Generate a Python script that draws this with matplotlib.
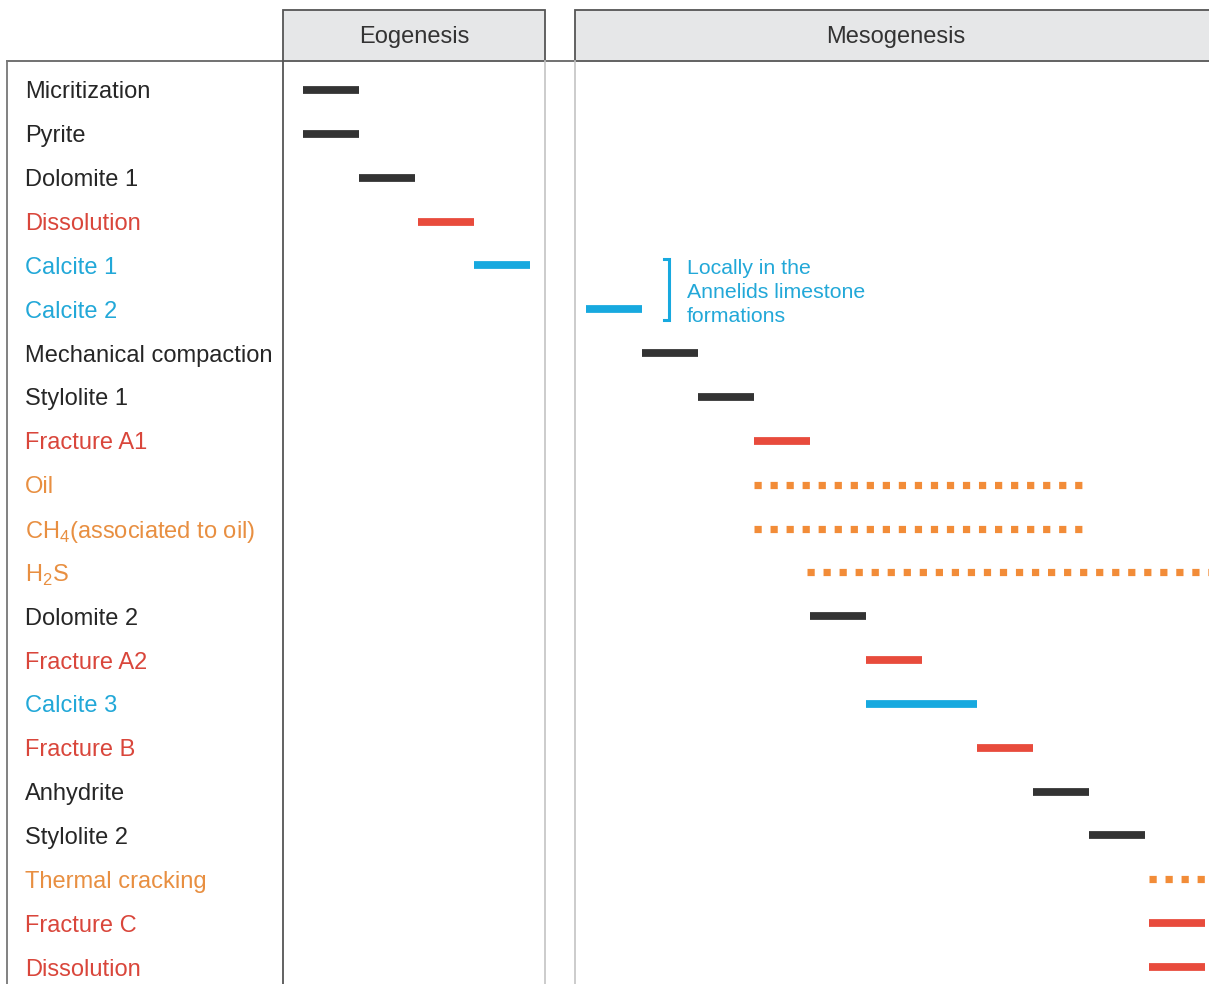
import matplotlib.pyplot as plt
from matplotlib.patches import Rectangle

plt.rcParams['font.family'] = ['Liberation Sans', 'DejaVu Sans']
plt.rcParams['mathtext.fontset'] = 'custom'
plt.rcParams['mathtext.rm'] = 'Liberation Sans'

# diagenetic events, top to bottom
processes = ['Micritization', 'Pyrite', 'Dolomite 1', 'Dissolution', 'Calcite 1',
             'Calcite 2', 'Mechanical compaction', 'Stylolite 1', 'Fracture A1', 'Oil',
             r'CH$_4$(associated to oil)', r'H$_2$S', 'Dolomite 2', 'Fracture A2', 'Calcite 3',
             'Fracture B', 'Anhydrite', 'Stylolite 2', 'Thermal cracking', 'Fracture C',
             'Dissolution']
# relative timing (arbitrary units)
starts = [0, 0, 1, 2.05, 3.05, 5.05, 6.05, 7.05, 8.05, 8.05, 8.05, 9.0, 9.05,
          10.05, 10.05, 12.04, 13.04, 14.04, 15.1, 15.1, 15.1]
ends = [1, 1, 2, 3.05, 4.05, 6.05, 7.05, 8.05, 9.05, 13.93, 13.93, 16.6, 10.05,
        11.05, 12.04, 13.04, 14.04, 15.04, 16.6, 16.1, 16.1]
kinds = ['mineral', 'mineral', 'mineral', 'dissolution', 'cement', 'cement', 'mineral',
         'mineral', 'dissolution', 'fluid', 'fluid', 'fluid', 'mineral', 'dissolution',
         'cement', 'dissolution', 'mineral', 'mineral', 'fluid', 'dissolution', 'dissolution']
stages = ['Eogenesis', 'Mesogenesis']
note = ['Locally in the', 'Annelids limestone', 'formations']

bar_colors = {'mineral': '#333333', 'dissolution': '#e84b3c', 'cement': '#17a9df', 'fluid': '#f28c38'}
text_colors = {'mineral': '#262626', 'dissolution': '#d9463b', 'cement': '#22a8d8', 'fluid': '#e88f41'}

W, H = 1209, 984
fig = plt.figure(figsize=(W / 100, H / 100), dpi=100)
ax = fig.add_axes([0, 0, 1, 1])
# time axis: 1 unit = 56 px, t=0 at x=303 ; rows 43.85 px apart, row 0 at y=90
ax.set_xlim(-303 / 56, (W - 303) / 56)
ax.set_ylim((H - 90) / 43.85, -90 / 43.85)
ax.axis('off')


def fx(x):
    return x / W


def fy(y):
    return 1 - y / H


tf = fig.transFigure

# table frame
ax.add_patch(Rectangle((fx(283), fy(61)), fx(545) - fx(283), fy(10) - fy(61), transform=tf,
                       facecolor='#e6e7e8', edgecolor='#555555', lw=1.3, clip_on=False))
ax.add_patch(Rectangle((fx(575), fy(61)), fx(1220) - fx(575), fy(10) - fy(61), transform=tf,
                       facecolor='#e6e7e8', edgecolor='#555555', lw=1.3, clip_on=False))
ax.plot([fx(7), fx(W)], [fy(61), fy(61)], transform=tf, color='#666666', lw=1.3)
ax.plot([fx(7), fx(7)], [fy(61), fy(H)], transform=tf, color='#777777', lw=1.3)
ax.plot([fx(283), fx(283)], [fy(61), fy(H)], transform=tf, color='#555555', lw=1.3)
for xl in [545, 575]:
    ax.plot([fx(xl), fx(xl)], [fy(61), fy(H)], transform=tf, color='#c4c4c4', lw=1.2)

ax.text(fx(414), fy(35), stages[0], transform=tf, ha='center', va='center_baseline',
        fontsize=17, color='#333333')
ax.text(fx(896), fy(35), stages[1], transform=tf, ha='center', va='center_baseline',
        fontsize=17, color='#333333')

for i, (name, s, e, k) in enumerate(zip(processes, starts, ends, kinds)):
    ax.annotate(name, xy=(fx(25), i), xycoords=('figure fraction', 'data'),
                ha='left', va='center_baseline', fontsize=17, color=text_colors[k])
    if k == 'fluid':
        ax.plot([s, e], [i, i], color=bar_colors[k], lw=5.2,
                linestyle=(0, (1.0, 1.22)), solid_capstyle='butt', dash_capstyle='butt')
    else:
        ax.plot([s, e], [i, i], color=bar_colors[k], lw=5.6, solid_capstyle='butt')

# bracket note for the Calcite 1 / Calcite 2 rows
bc = '#17a9df'
ax.plot([fx(664), fx(669), fx(669), fx(664)], [fy(259), fy(259), fy(320), fy(320)],
        transform=tf, color=bc, lw=2.2, solid_joinstyle='miter')
for j, line in enumerate(note):
    ax.text(fx(687), fy(266 + 24 * j), line, transform=tf, ha='left', va='center_baseline',
            fontsize=15.3, color='#22a8d8')

fig.savefig('out.png', dpi=100)
